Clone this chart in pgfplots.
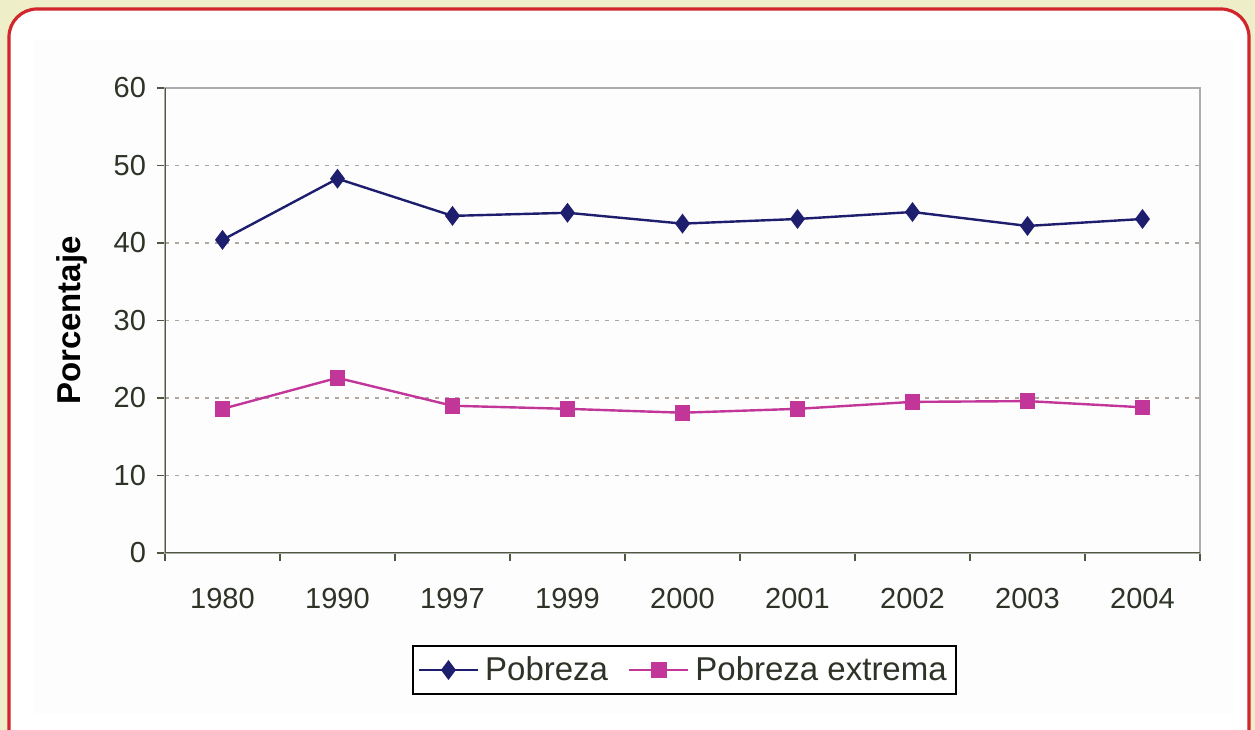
\documentclass[border=0pt]{standalone}
\usepackage{pgfplots}
\pgfplotsset{compat=1.18}
\usepackage{fontspec}
\setmainfont{Liberation Sans}
\definecolor{bgY}{HTML}{EEEEC8}
\definecolor{frameRed}{HTML}{D0262C}
\definecolor{navy}{HTML}{1E1E6E}
\definecolor{magen}{HTML}{C2369A}
\definecolor{axdark}{HTML}{4E5840}
\definecolor{txt}{HTML}{2E3328}
\definecolor{gridc}{HTML}{B0A8A0}
\begin{document}
\begin{tikzpicture}
\useasboundingbox (0,0) rectangle (627.5bp,365bp);
\fill[bgY] (0,0) rectangle (627.5bp,365bp);
\begin{scope}
\clip (0,0) rectangle (627.5bp,365bp);
\draw[frameRed, line width=1.6bp, fill=white, rounded corners=14bp] (4.5bp,-20bp) rectangle (624.5bp,360.5bp);
\end{scope}
\fill[black!0.8] (17bp,8bp) rectangle (617bp,345bp);
\begin{axis}[
  at={(82.5bp,88.5bp)}, anchor=south west,
  scale only axis, width=517.5bp, height=232.5bp,
  xmin=-0.5, xmax=8.5, ymin=0, ymax=60,
  /pgf/number format/assume math mode=true,
  xtick={0,...,8},
  xticklabels={1980,1990,1997,1999,2000,2001,2002,2003,2004},
  major x tick style={draw=none},
  minor xtick={-0.5,0.5,...,8.5},
  minor tick length=4bp,
  ytick={0,10,...,60},
  major tick length=4bp,
  tick align=outside,
  tick style={axdark, line width=0.8bp},
  xtick pos=bottom, ytick pos=left,
  ymajorgrids,
  grid style={gridc, dash pattern=on 2bp off 3bp, line width=0.8bp},
  axis line style={gray!65, line width=1bp},
  tick label style={font=\fontsize{14.5bp}{16bp}\selectfont, text=txt},
  xticklabel style={yshift=-10bp},
  yticklabel style={xshift=-2bp},
  ylabel={\textbf{Porcentaje}},
  ylabel style={at={(axis description cs:-0.0900,0.5)}, anchor=center, font=\fontsize{16.5bp}{18bp}\selectfont, text=black},
  legend columns=2,
  legend image code/.code={\draw[mark repeat=2,mark phase=2] plot coordinates {(0bp,0bp) (14.75bp,0bp) (29.5bp,0bp)};},
  legend style={at={(axis description cs:0.5017,-0.2516)}, anchor=center,
    draw=black, line width=1bp, fill=white, font=\fontsize{16.5bp}{18bp}\selectfont,
    text=txt, inner xsep=2.5bp, inner ysep=3.5bp,
    /tikz/every even column/.append style={column sep=8bp},
    /tikz/every odd column/.append style={column sep=1bp}},
  legend cell align=left,
]
\addplot[navy, line width=1.2bp, mark=diamond*, mark size=4bp, mark options={fill=navy}]
coordinates {(0,40.4) (1,48.3) (2,43.5) (3,43.9) (4,42.5) (5,43.1) (6,44.0) (7,42.2) (8,43.1)};
\addlegendentry{Pobreza}
\addplot[magen, line width=1.2bp, mark=square*, mark size=3.3bp, mark options={fill=magen}]
coordinates {(0,18.6) (1,22.6) (2,19.0) (3,18.6) (4,18.1) (5,18.6) (6,19.5) (7,19.6) (8,18.8)};
\addlegendentry{Pobreza extrema}
\draw[axdark, line width=1bp] (rel axis cs:0,1) -- (rel axis cs:0,0) -- (rel axis cs:1,0);
\end{axis}
\end{tikzpicture}
\end{document}
